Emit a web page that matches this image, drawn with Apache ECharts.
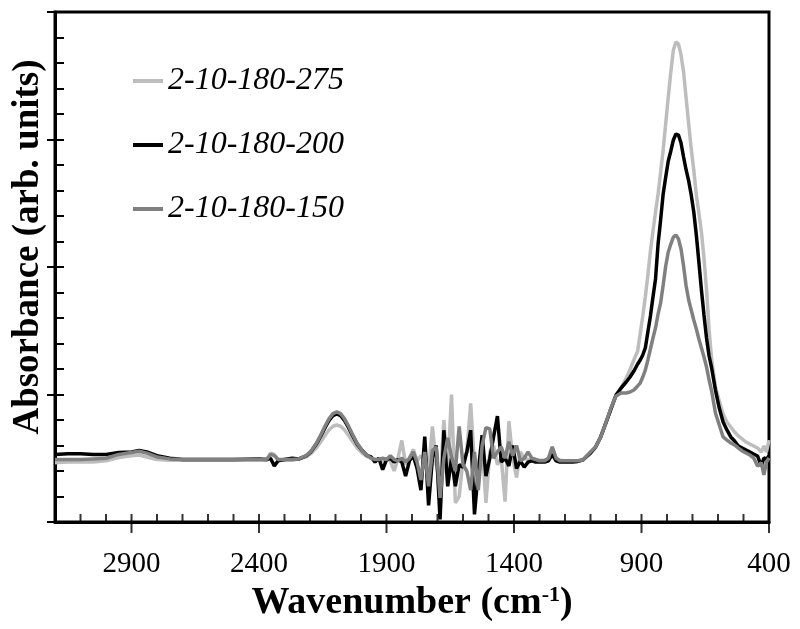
<!DOCTYPE html>
<html>
<head>
<meta charset="utf-8">
<script src="https://cdn.jsdelivr.net/npm/echarts@6/dist/echarts.min.js"></script>
<style>
html, body { margin: 0; padding: 0; background: #fff; }
#container { width: 800px; height: 629px; }
</style>
</head>
<body>
<div id="container"></div>
<script>
var seriesNames = ['2-10-180-275', '2-10-180-200', '2-10-180-150'];
var seriesColors = ['#bdbdbd', '#000000', '#808080'];

var xMajorTicks = [400, 900, 1400, 1900, 2400, 2900];
var xMinorTicks = [500, 600, 700, 800, 900, 1000, 1100, 1200, 1300, 1400, 1500, 1600, 1700, 1800, 1900, 2000,
    2100, 2200, 2300, 2400, 2500, 2600, 2700, 2800, 2900, 3000, 3100];

var wavenumbers = [
    3200, 3150, 3100, 3050, 3000, 2950, 2900, 2870, 2840, 2800, 2750, 2700, 2600, 2500, 2400,
    2370, 2355, 2340, 2325, 2300, 2270, 2245, 2215, 2195, 2175, 2155, 2140, 2125, 2110, 2095, 2080,
    2065, 2050, 2035, 2015, 1995, 1975, 1960, 1945,
    1930, 1915, 1900, 1885, 1870, 1855, 1840, 1825, 1810, 1795, 1780, 1765, 1750, 1735, 1720, 1705,
    1690, 1675, 1660, 1645, 1630, 1615, 1600, 1585, 1570, 1555, 1540, 1525, 1510, 1495, 1480, 1465,
    1450, 1435, 1420, 1405, 1390, 1375, 1360, 1345, 1330,
    1315, 1300, 1280, 1265, 1250, 1235, 1220, 1200, 1170, 1150,
    1130, 1100, 1080, 1060, 1040, 1020, 1000, 980, 960, 945, 930, 915, 905, 895, 885, 875, 865, 855,
    845, 835, 825, 815, 805, 795, 785, 775, 765, 755, 745, 735, 725, 715, 705, 695, 685, 675, 665,
    655, 645, 635, 625, 610, 595, 580, 565, 550, 535, 520, 505, 490, 475, 460, 445, 430, 420, 410, 400
];

// 2-10-180-275 (light grey)
var sample275 = [
    0.465, 0.47, 0.47, 0.47, 0.48, 0.505, 0.52, 0.525, 0.51, 0.49, 0.485, 0.485, 0.485, 0.485, 0.485,
    0.485, 0.54, 0.53, 0.49, 0.485, 0.485, 0.493, 0.512, 0.538, 0.581, 0.638, 0.683, 0.723, 0.751, 0.761, 0.751,
    0.723, 0.683, 0.638, 0.581, 0.538, 0.512, 0.50, 0.49,
    0.49, 0.48, 0.49, 0.48, 0.40, 0.50, 0.64, 0.45, 0.50, 0.57, 0.48, 0.52, 0.49, 0.40, 0.75, 0.45,
    0.30, 0.80, 0.40, 1.00, 0.15, 0.20, 0.49, 0.55, 0.93, 0.45, 0.35, 0.60, 0.15, 0.55, 0.60, 0.45,
    0.50, 0.16, 0.79, 0.50, 0.35, 0.55, 0.50, 0.49, 0.49,
    0.49, 0.485, 0.485, 0.50, 0.58, 0.50, 0.485, 0.48, 0.48, 0.48,
    0.486, 0.549, 0.588, 0.667, 0.776, 0.886, 0.988, 1.05, 1.129, 1.195, 1.271, 1.341, 1.478, 1.616, 1.765, 1.937, 2.125, 2.282,
    2.431, 2.573, 2.745, 2.918, 3.129, 3.333, 3.529, 3.702, 3.765, 3.749, 3.663, 3.529, 3.325, 3.122, 2.925, 2.761, 2.565, 2.424, 2.275,
    2.071, 1.82, 1.506, 1.278, 1.059, 0.949, 0.847, 0.784, 0.745, 0.706, 0.675, 0.651, 0.627, 0.612, 0.596, 0.58, 0.549, 0.596, 0.549, 0.643
];

// 2-10-180-200 (black)
var sample200 = [
    0.53, 0.535, 0.535, 0.53, 0.53, 0.545, 0.55, 0.56, 0.55, 0.52, 0.50, 0.49, 0.49, 0.49, 0.495,
    0.49, 0.50, 0.44, 0.48, 0.49, 0.50, 0.494, 0.519, 0.554, 0.611, 0.685, 0.744, 0.797, 0.834, 0.847, 0.834,
    0.797, 0.744, 0.685, 0.611, 0.56, 0.52, 0.51, 0.47,
    0.50, 0.41, 0.49, 0.50, 0.47, 0.49, 0.47, 0.36, 0.48, 0.52, 0.42, 0.25, 0.67, 0.13, 0.50, 0.60,
    0.02, 0.72, 0.28, 0.50, 0.28, 0.45, 0.43, 0.55, 0.72, 0.06, 0.40, 0.68, 0.36, 0.50, 0.67, 0.83,
    0.47, 0.50, 0.44, 0.60, 0.42, 0.48, 0.43, 0.47, 0.48,
    0.47, 0.47, 0.47, 0.48, 0.53, 0.48, 0.47, 0.47, 0.47, 0.475,
    0.486, 0.54, 0.588, 0.667, 0.776, 0.886, 0.996, 1.051, 1.098, 1.137, 1.184, 1.239, 1.271, 1.31, 1.365, 1.49, 1.616, 1.765,
    1.906, 2.18, 2.369, 2.573, 2.706, 2.831, 2.91, 2.996, 3.043, 3.035, 2.973, 2.863, 2.761, 2.675, 2.565, 2.431, 2.251, 2.039, 1.82,
    1.624, 1.443, 1.302, 1.208, 1.035, 0.894, 0.784, 0.722, 0.667, 0.635, 0.596, 0.58, 0.565, 0.549, 0.533, 0.518, 0.439, 0.502, 0.494, 0.518
];

// 2-10-180-150 (grey)
var sample150 = [
    0.49, 0.49, 0.49, 0.495, 0.50, 0.53, 0.545, 0.555, 0.54, 0.51, 0.495, 0.49, 0.49, 0.49, 0.49,
    0.49, 0.53, 0.52, 0.49, 0.49, 0.49, 0.495, 0.521, 0.558, 0.617, 0.694, 0.756, 0.811, 0.85, 0.863, 0.85,
    0.811, 0.756, 0.694, 0.617, 0.558, 0.521, 0.50, 0.49,
    0.49, 0.50, 0.49, 0.52, 0.49, 0.48, 0.50, 0.47, 0.50, 0.55, 0.47, 0.33, 0.55, 0.28, 0.56, 0.59,
    0.19, 0.50, 0.66, 0.51, 0.40, 0.75, 0.45, 0.40, 0.25, 0.55, 0.25, 0.60, 0.74, 0.73, 0.50, 0.55,
    0.59, 0.50, 0.63, 0.52, 0.60, 0.48, 0.50, 0.55, 0.50,
    0.49, 0.48, 0.48, 0.50, 0.59, 0.50, 0.48, 0.48, 0.48, 0.48,
    0.486, 0.549, 0.588, 0.667, 0.776, 0.894, 0.988, 1.012, 1.012, 1.02, 1.035, 1.067, 1.09, 1.137, 1.192, 1.271, 1.357, 1.443,
    1.522, 1.631, 1.718, 1.859, 2.008, 2.118, 2.18, 2.235, 2.251, 2.22, 2.141, 2.008, 1.851, 1.741, 1.663, 1.584, 1.514, 1.435, 1.365,
    1.294, 1.216, 1.114, 1.027, 0.855, 0.761, 0.667, 0.643, 0.62, 0.604, 0.58, 0.557, 0.541, 0.525, 0.502, 0.439, 0.463, 0.369, 0.471, 0.502
];

function pairs(vals) {
    return wavenumbers.map(function (w, i) { return [w, vals[i]]; });
}

var serif = 'Liberation Serif';
var dom = document.getElementById('container');
var myChart = echarts.init(dom);

var series = [sample275, sample200, sample150].map(function (vals, i) {
    return {
        name: seriesNames[i],
        type: 'line',
        data: pairs(vals),
        showSymbol: false,
        itemStyle: { color: seriesColors[i] },
        lineStyle: { width: 3.5, color: seriesColors[i] }
    };
});

// x-axis tick marks, placed on the axis through the x scale
series.push({
    type: 'scatter',
    data: xMinorTicks.map(function (w) { return [w, 0]; }),
    symbol: 'rect',
    symbolSize: [2, 8],
    symbolOffset: [0, -4],
    itemStyle: { color: '#000' },
    clip: false,
    silent: true,
    z: 5
});
series.push({
    type: 'scatter',
    data: xMajorTicks.map(function (w) { return [w, 0]; }),
    symbol: 'rect',
    symbolSize: [2, 10],
    symbolOffset: [0, 6],
    itemStyle: { color: '#000' },
    clip: false,
    silent: true,
    z: 5
});

var option = {
    animation: false,
    grid: {
        left: 55, right: 31, top: 12, bottom: 107,
        show: true, borderColor: '#000', borderWidth: 3
    },
    legend: {
        data: seriesNames,
        orient: 'vertical',
        left: 128,
        top: 60,
        icon: 'rect',
        itemWidth: 30,
        itemHeight: 4,
        itemGap: 32,
        textStyle: { fontFamily: serif, fontStyle: 'italic', fontSize: 32, color: '#000' }
    },
    xAxis: {
        type: 'value', min: 400, max: 3200, inverse: true, position: 'bottom',
        name: '{t|Wavenumber (cm}{s|-1}{t|)}',
        nameLocation: 'middle',
        nameGap: 50,
        nameTextStyle: {
            rich: {
                t: { fontFamily: serif, fontWeight: 'bold', fontSize: 38, color: '#000' },
                s: { fontFamily: serif, fontWeight: 'bold', fontSize: 22, color: '#000', verticalAlign: 'top', padding: [0, 0, 16, 0] }
            }
        },
        axisLine: { onZero: false, lineStyle: { color: '#000', width: 3 } },
        axisTick: { show: false },
        axisLabel: {
            customValues: xMajorTicks, fontFamily: serif, fontSize: 29, color: '#000', margin: 28,
            formatter: function (v) { return String(v); }
        },
        splitLine: { show: false }
    },
    yAxis: [
        {
            type: 'value', min: 0, max: 4, interval: 1, position: 'left',
            name: 'Absorbance (arb. units)',
            nameLocation: 'middle',
            nameGap: 8,
            nameTextStyle: { fontFamily: serif, fontWeight: 'bold', fontSize: 37, color: '#000', padding: [0, 0, 0, 40] },
            axisLine: { onZero: false, lineStyle: { color: '#000', width: 3 } },
            axisTick: { inside: false, length: 8, lineStyle: { color: '#000', width: 2 } },
            axisLabel: { show: false },
            splitLine: { show: false }
        },
        {
            type: 'value', min: 0, max: 4, interval: 0.2, position: 'left',
            axisLine: { show: false, onZero: false },
            axisTick: { inside: true, length: 9, lineStyle: { color: '#000', width: 2 } },
            axisLabel: { show: false },
            splitLine: { show: false }
        }
    ],
    series: series
};

myChart.setOption(option);
</script>
</body>
</html>
